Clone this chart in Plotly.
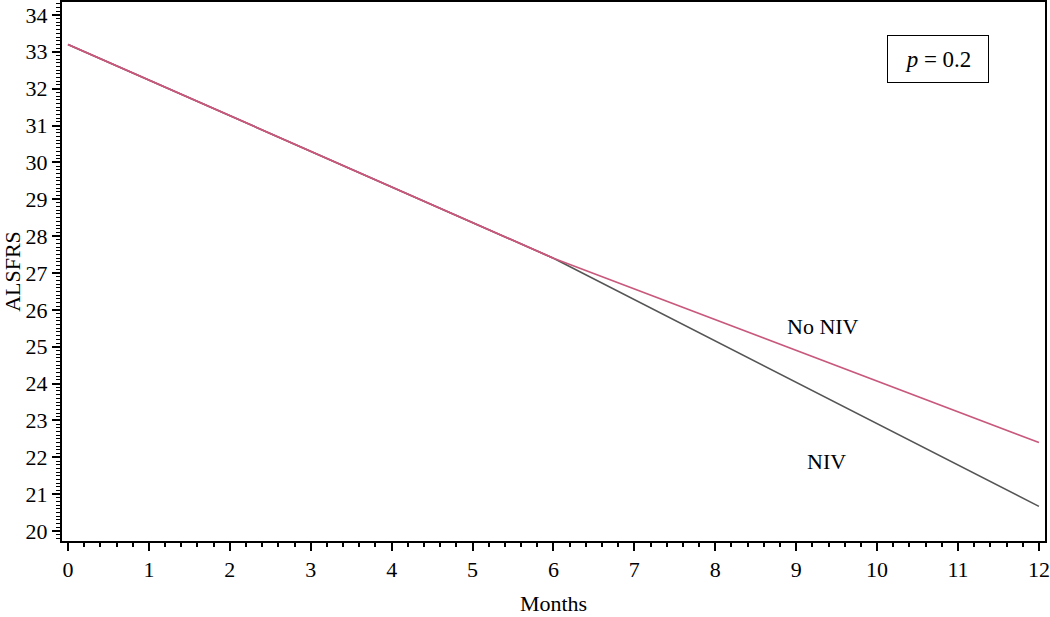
import plotly.graph_objects as go

months = [0, 6, 12]
no_niv = [33.2, 27.4, 22.4]
niv = [33.2, 27.4, 20.67]
x_ticks = list(range(0, 13))
y_ticks = list(range(20, 35))

FONT = "Liberation Serif"

fig = go.Figure()
fig.add_trace(go.Scatter(x=months, y=niv, mode="lines", name="NIV",
                         line=dict(color="#555555", width=1.6)))
fig.add_trace(go.Scatter(x=months[:2], y=niv[:2], mode="lines", showlegend=False,
                         line=dict(color="#c8587c", width=1.6)))
fig.add_trace(go.Scatter(x=months, y=no_niv, mode="lines", name="No NIV",
                         line=dict(color="#c8587c", width=1.6)))

fig.add_annotation(x=9.33, y=25.55, text="No NIV", showarrow=False,
                   font=dict(family=FONT, size=22, color="black"))
fig.add_annotation(x=9.37, y=21.9, text="NIV", showarrow=False,
                   font=dict(family=FONT, size=22, color="black"))
fig.add_annotation(x=10.75, y=32.8, text="<i>p</i> = 0.2", showarrow=False,
                   font=dict(family=FONT, size=23, color="black"),
                   bordercolor="black", borderwidth=1, width=98, height=44,
                   bgcolor="white")

fig.update_layout(
    width=1050, height=617,
    margin=dict(l=62, r=5, t=2, b=76, autoexpand=False),
    paper_bgcolor="white", plot_bgcolor="white",
    showlegend=False,
    font=dict(family=FONT, size=22, color="black"),
    xaxis=dict(range=[-0.074, 12.075], tickvals=x_ticks, automargin=False,
               ticklabeloverflow="allow",
               showline=True, linecolor="black", linewidth=2, mirror=True,
               ticks="outside", ticklen=8, tickwidth=2, tickcolor="black",
               minor=dict(dtick=0.2, ticks="outside", ticklen=4, tickwidth=1.5, tickcolor="black"),
               showgrid=False, zeroline=False,
               title=dict(text="Months", font=dict(size=22), standoff=14),
               tickfont=dict(size=22)),
    yaxis=dict(range=[19.73, 34.35], tickvals=y_ticks, automargin=False,
               ticklabeloverflow="allow",
               showline=True, linecolor="black", linewidth=2, mirror=True,
               ticks="outside", ticklen=8, tickwidth=2, tickcolor="black",
               minor=dict(dtick=0.1, ticks="outside", ticklen=4, tickwidth=1.2, tickcolor="black"),
               showgrid=False, zeroline=False,
               title=dict(text="ALSFRS", font=dict(size=22), standoff=5),
               tickfont=dict(size=22)),
)

fig.write_html("out.html", config={"displayModeBar": False},
               post_script="document.body.style.margin='0';")
